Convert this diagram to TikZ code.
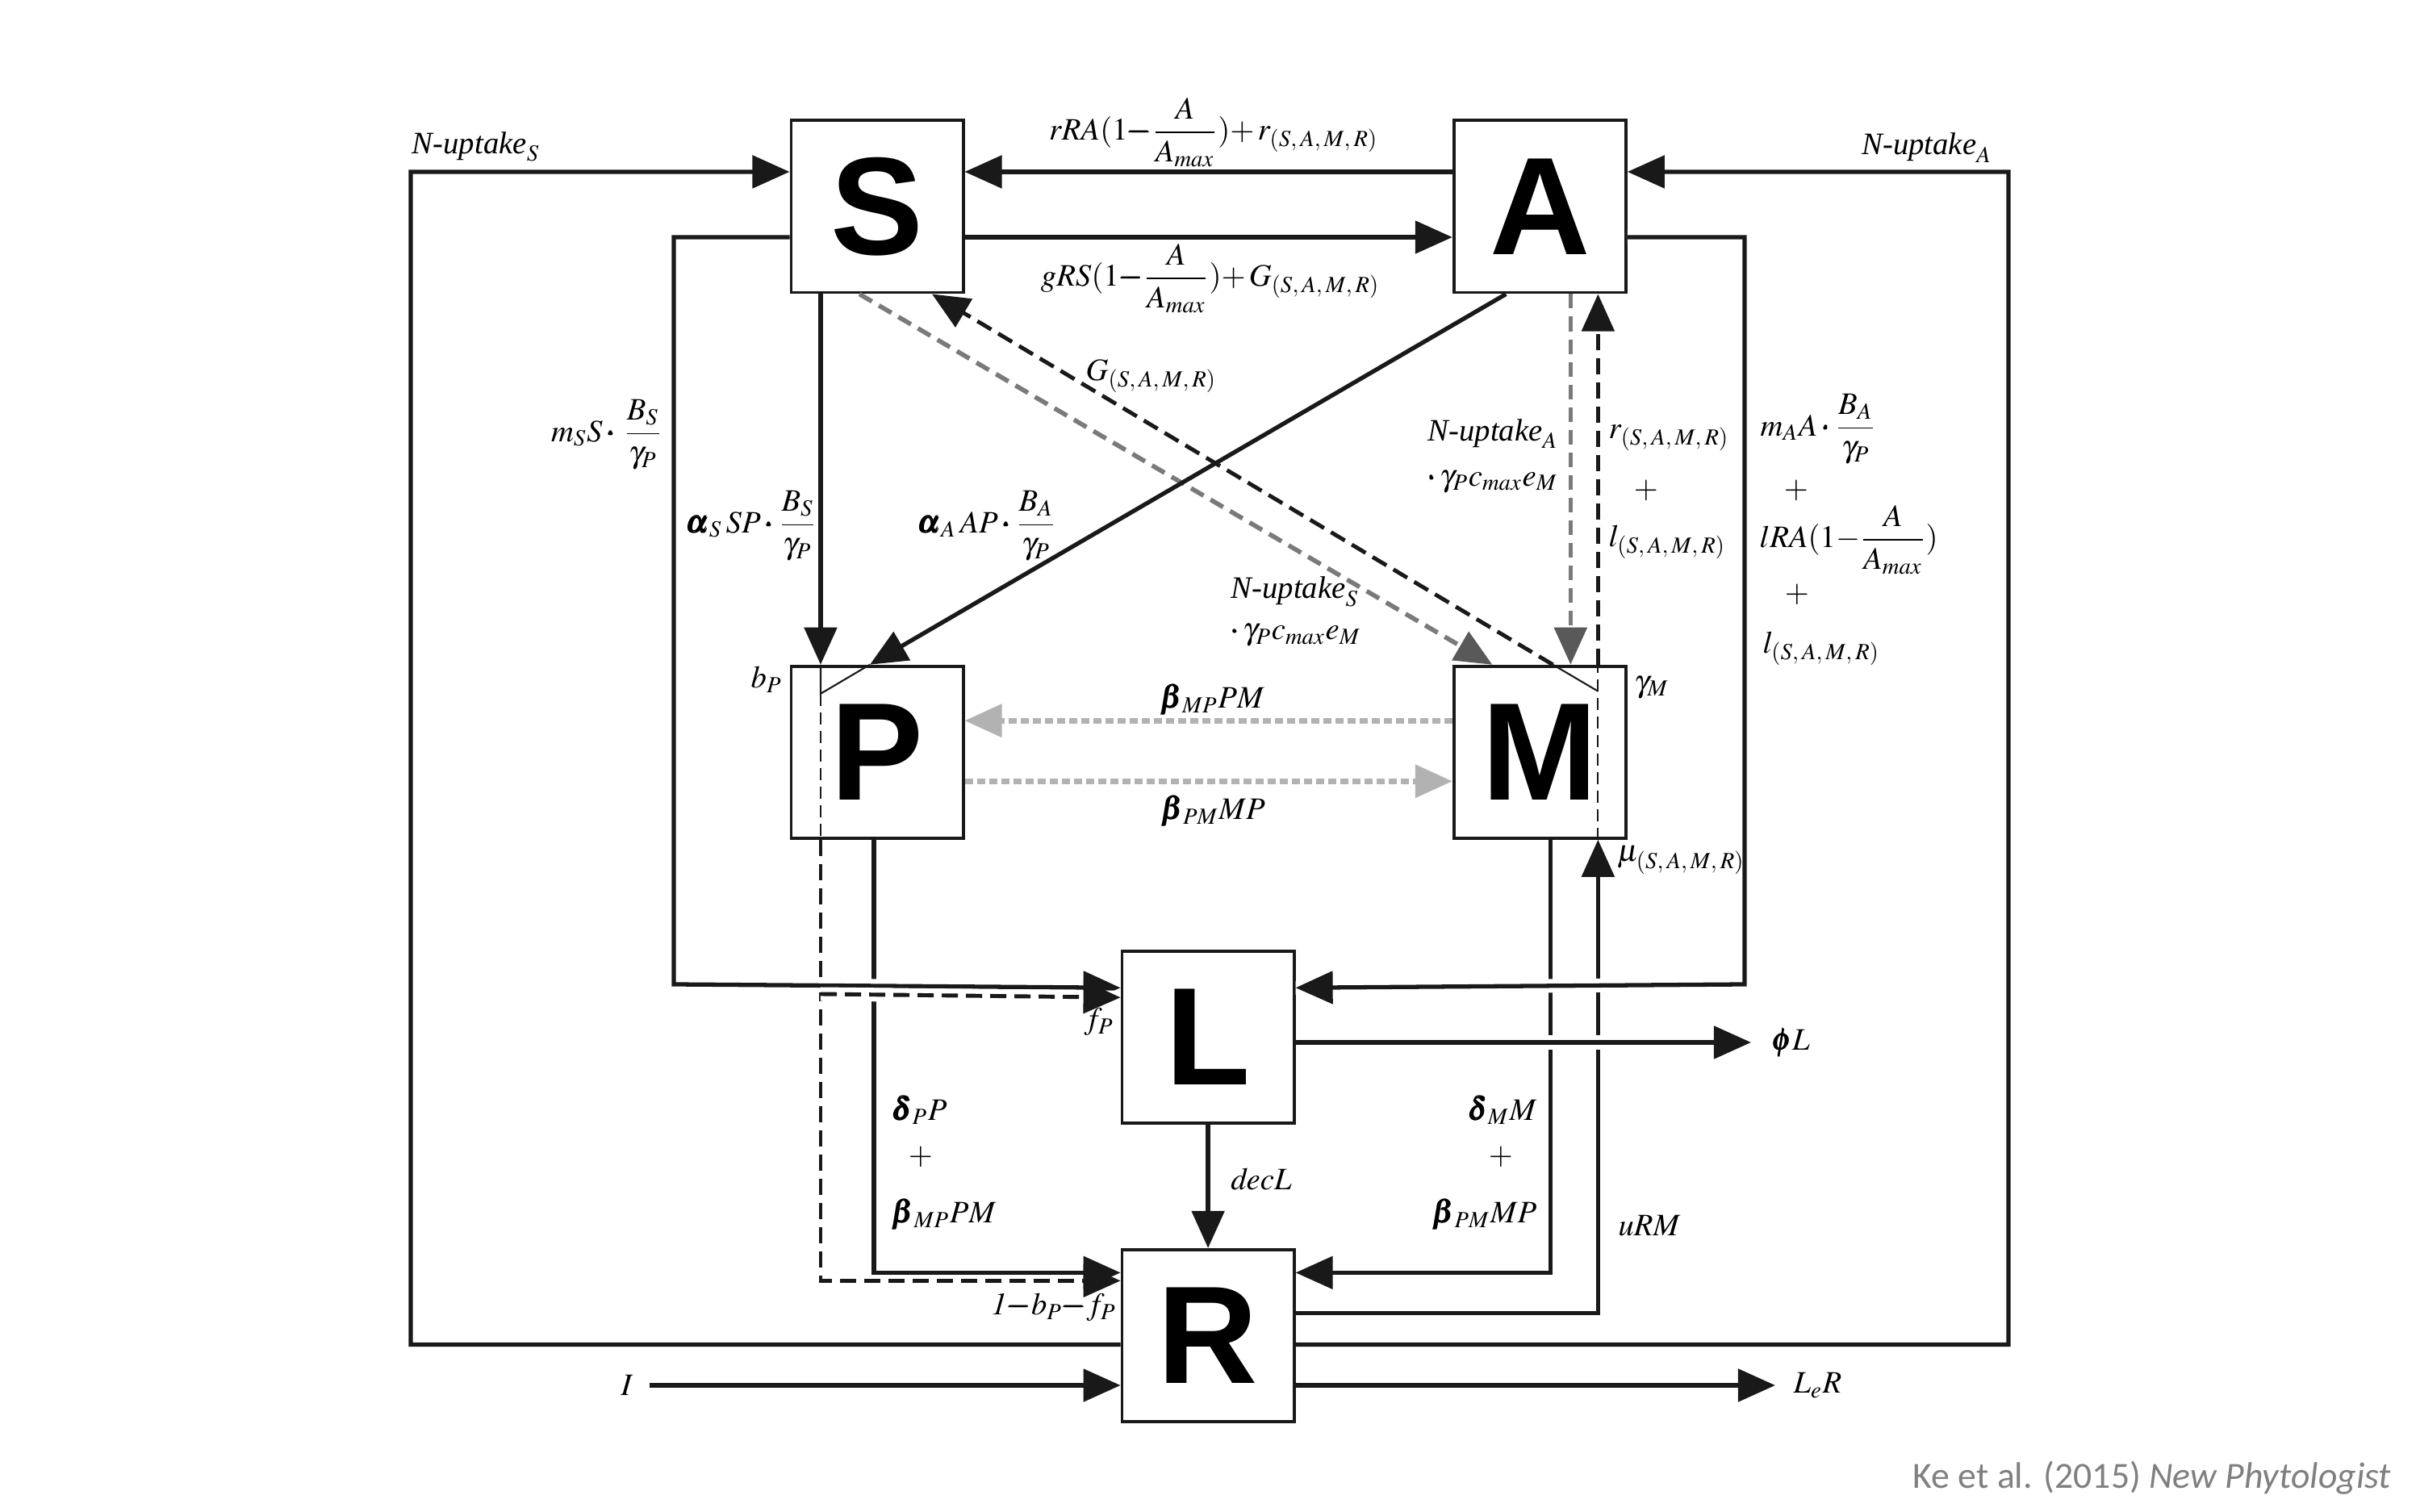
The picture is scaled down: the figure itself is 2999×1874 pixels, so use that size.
\documentclass[tikz,border=0pt]{standalone}
\usepackage{amsmath}
\usepackage{mathptmx}
\usepackage[no-math]{fontspec}
\setmainfont{Liberation Serif}
\newfontfamily\poolfont{Liberation Sans}
\newfontfamily\capfont{Carlito}
\usetikzlibrary{positioning, arrows.meta}
\newcommand{\sama}{(S,\:A,\:M,\:R)}
\tikzset{
  pool/.style={rectangle, draw=black!90, line width=1.1pt, minimum width=2.13cm,
               minimum height=2.13cm, inner sep=0pt,
               font=\poolfont\bfseries\fontsize{49}{49}\selectfont},
  lbl/.style={inner sep=0pt},
  flow/.style={-{Triangle[length=0.46cm,width=0.40cm]}, line width=1.5pt, black!90},
  bridge/.style={preaction={draw=white, solid, -, line width=0.17cm}},
  dflow/.style={-{Triangle[length=0.46cm,width=0.40cm]}, line width=1.4pt,
                black!90, dash pattern=on 0.2cm off 0.1cm},
  gflow/.style={-{Triangle[length=0.46cm,width=0.40cm,color=black!65]},
                line width=1.6pt, black!52, dash pattern=on 0.18cm off 0.1cm},
  pflow/.style={-{Triangle[length=0.46cm,width=0.40cm]}, line width=1.9pt,
                black!30, dash pattern=on 0.1cm off 0.05cm},
  thinl/.style={line width=0.6pt, black!90},
  thind/.style={line width=0.6pt, black!90, dash pattern=on 0.15cm off 0.08cm},
}

\begin{document}
\begin{tikzpicture}[x=0.01cm, y=-0.01cm,
    every node/.style={font=\fontsize{11}{14.5}\selectfont}]
  \path[fill=white, use as bounding box] (0,0) rectangle (2999,1874);
  \node[pool] (S) at (1087,256) {S};
  \node[pool, right=6.04cm of S] (A) {A};
  \node[pool, below=4.59cm of S] (P) {P};
  \node[pool, below=4.59cm of A] (M) {M};
  \node[pool, below right=1.36cm and 1.93cm of P] (L) {L};
  \node[pool, below=1.53cm of L] (R) {R};
  \node[lbl] (tI) at (777,1717) {$I$};
  \node[lbl, anchor=west] (tphi) at (2196,1292) {$\pmb{\phi}L$};
  \node[lbl, anchor=west] (tLe) at (2222,1717) {$L_{e}R$};

  \coordinate (pJ) at ([xshift=-0.70cm, yshift=-0.36cm]P.north);
  \coordinate (mJ) at ([xshift=0.72cm, yshift=-0.33cm]M.north);
  \coordinate (pF) at (1017,1232);
  \draw[thinl] ([xshift=-0.70cm]P.north) -- (pJ) -- ([xshift=-0.09cm]P.north);
  \draw[thind] (pJ) -- ([xshift=-0.70cm]P.south);
  \draw[thind] ([xshift=0.72cm]M.south) -- ([xshift=0.72cm]M.north);
  \draw[thinl] (mJ) -- ([xshift=0.16cm]M.north);

  \draw[gflow] ([xshift=-0.22cm]S.south) -- ([xshift=-0.59cm]M.north);
  \draw[dflow] ([xshift=0.16cm]M.north) -- ([xshift=0.68cm]S.south);
  \draw[gflow] ([xshift=0.38cm]A.south) -- ([xshift=0.38cm]M.north);
  \draw[dflow] ([xshift=0.72cm]M.north) -- ([xshift=0.72cm]A.south);
  \draw[flow] ([xshift=-0.42cm]A.south) -- ([xshift=-0.09cm]P.north);
  \draw[flow] ([xshift=-0.70cm]S.south) -- ([xshift=-0.70cm]P.north);

  \draw[flow] ([yshift=0.43cm]A.west) -- ([yshift=0.43cm]S.east);
  \draw[flow] ([yshift=-0.38cm]S.east) -- ([yshift=-0.38cm]A.west);
  \draw[flow] ([yshift=-0.11cm]R.west) -| (509,213) -- ([yshift=0.43cm]S.west);
  \draw[flow] ([yshift=-0.11cm]R.east) -| (2489,213) -- ([yshift=0.43cm]A.east);

  \draw[dflow] ([xshift=-0.70cm]P.south) |- ([yshift=0.68cm]R.west);
  \draw[flow] ([xshift=-0.04cm]P.south) |- ([yshift=0.78cm]R.west);
  \draw[flow] ([xshift=0.13cm]M.south) |- ([yshift=0.78cm]R.east);
  \draw[flow] ([yshift=0.28cm]R.east) -| ([xshift=0.72cm]M.south);
  \draw[flow] (L) -- (R);

  \draw[flow, bridge] ([yshift=-0.38cm]S.west) -| (835,1220) -- ([yshift=0.61cm]L.west);
  \draw[flow, bridge] ([yshift=-0.38cm]A.east) -| (2162,1220) -- ([yshift=0.61cm]L.east);
  \draw[dflow, bridge] (pF) -- ([yshift=0.49cm]L.west);
  \draw[flow, bridge] (L.east |- tphi) -- ([xshift=-0.26cm]tphi.west);

  \draw[pflow] ([yshift=0.39cm]M.west) -- ([yshift=0.39cm]P.east);
  \draw[pflow] ([yshift=-0.36cm]P.east) -- ([yshift=-0.36cm]M.west);
  \draw[flow] ([xshift=0.2cm]tI.east) -- (tI -| R.west);
  \draw[flow] (R.east |- tLe) -- ([xshift=-0.22cm]tLe.west);

  \node[lbl] (tNS) at (590,182) {$\textit{N-uptake}_{S}$};
  \node[lbl] (tNA) at (2388,183) {$\textit{N-uptake}_{A}$};
  \node[lbl] (tAS) at (1504,164) {$rRA(1{\pmb{-}}\dfrac{A}{A_{max}}){+}\,r_{\sama}$};
  \node[lbl] (tSA) at (1500,345) {$gRS(1{\pmb{-}}\dfrac{A}{A_{max}}){+}\,G_{\sama}$};
  \node[lbl] (tmS) at (752,539) {$m_{S}S\pmb{\cdot}\,\dfrac{B_{S}}{\gamma_{P}}$};
  \node[lbl] (taS) at (932,652) {$\pmb{\alpha}_{S}\,SP\pmb{\cdot}\dfrac{B_{S}}{\gamma_{P}}$};
  \node[lbl] (taA) at (1224,652) {$\pmb{\alpha}_{A}\,AP\pmb{\cdot}\dfrac{B_{A}}{\gamma_{P}}$};
  \node[lbl, anchor=west] (tG) at (1345,466) {$G_{\sama}$};
  \node[lbl, anchor=west, align=left] (tNSM) at (1525,758)
        {$\textit{N-uptake}_{S}$\\$\pmb{\cdot}\,\gamma_{P}c_{max}e_{M}$};
  \node[lbl, anchor=west, align=left] (tNAM) at (1769,565)
        {$\textit{N-uptake}_{A}$\\[0.05cm]$\pmb{\cdot}\,\gamma_{P}c_{max}e_{M}$};
  \node[lbl, anchor=west] (tr) at (1993,543) {$r_{\sama}$};
  \node[lbl] (tp1) at (2040,608) {$+$};
  \node[lbl, anchor=west] (tl) at (1993,672) {$l_{\sama}$};
  \node[lbl, anchor=west] (tmA) at (2181,532) {$m_{A}A\pmb{\cdot}\dfrac{B_{A}}{\gamma_{P}}$};
  \node[lbl] (tp2) at (2226,608) {$+$};
  \node[lbl, anchor=west] (tlRA) at (2180,669) {$lRA(1{-}\dfrac{A}{A_{max}})$};
  \node[lbl] (tp3) at (2227,737) {$+$};
  \node[lbl, anchor=west] (tlA) at (2184,804) {$l_{\sama}$};
  \node[lbl] (tbP) at (950,842) {$b_{P}$};
  \node[lbl] (tgM) at (2047,852) {$\gamma_{M}$};
  \node[lbl] (tbMP) at (1503,867) {$\pmb{\beta}_{MP}PM$};
  \node[lbl] (tbPM) at (1504,1005) {$\pmb{\beta}_{PM}MP$};
  \node[lbl, anchor=west] (tmu) at (2004,1066) {$\mu_{\sama}$};
  \node[lbl] (tfP) at (1362,1267) {$f_{P}$};
  \node[lbl, anchor=west] (tdP) at (1106,1376) {$\pmb{\delta}_{P}P$};
  \node[lbl] (tp4) at (1141,1434) {$+$};
  \node[lbl, anchor=west] (tbMP2) at (1106,1505) {$\pmb{\beta}_{MP}PM$};
  \node[lbl, anchor=east] (tdM) at (1905,1376) {$\pmb{\delta}_{M}M$};
  \node[lbl] (tp5) at (1860,1434) {$+$};
  \node[lbl, anchor=east] (tbPM2) at (1905,1505) {$\pmb{\beta}_{PM}MP$};
  \node[lbl] (tdec) at (1563,1462) {$\mathit{decL}$};
  \node[lbl] (tuRM) at (2044,1519) {$\mathit{uRM}$};
  \node[lbl] (tbf) at (1306,1620) {$\mathit{1}{\pmb{-}}b_{P}{\pmb{-}}f_{P}$};
  \node[lbl, anchor=east, text=black!50] (tcite) at (2964,1832)
        {\capfont\fontsize{13}{15}\selectfont Ke et al. (2015) \textit{New Phytologist}};
\end{tikzpicture}
\end{document}
